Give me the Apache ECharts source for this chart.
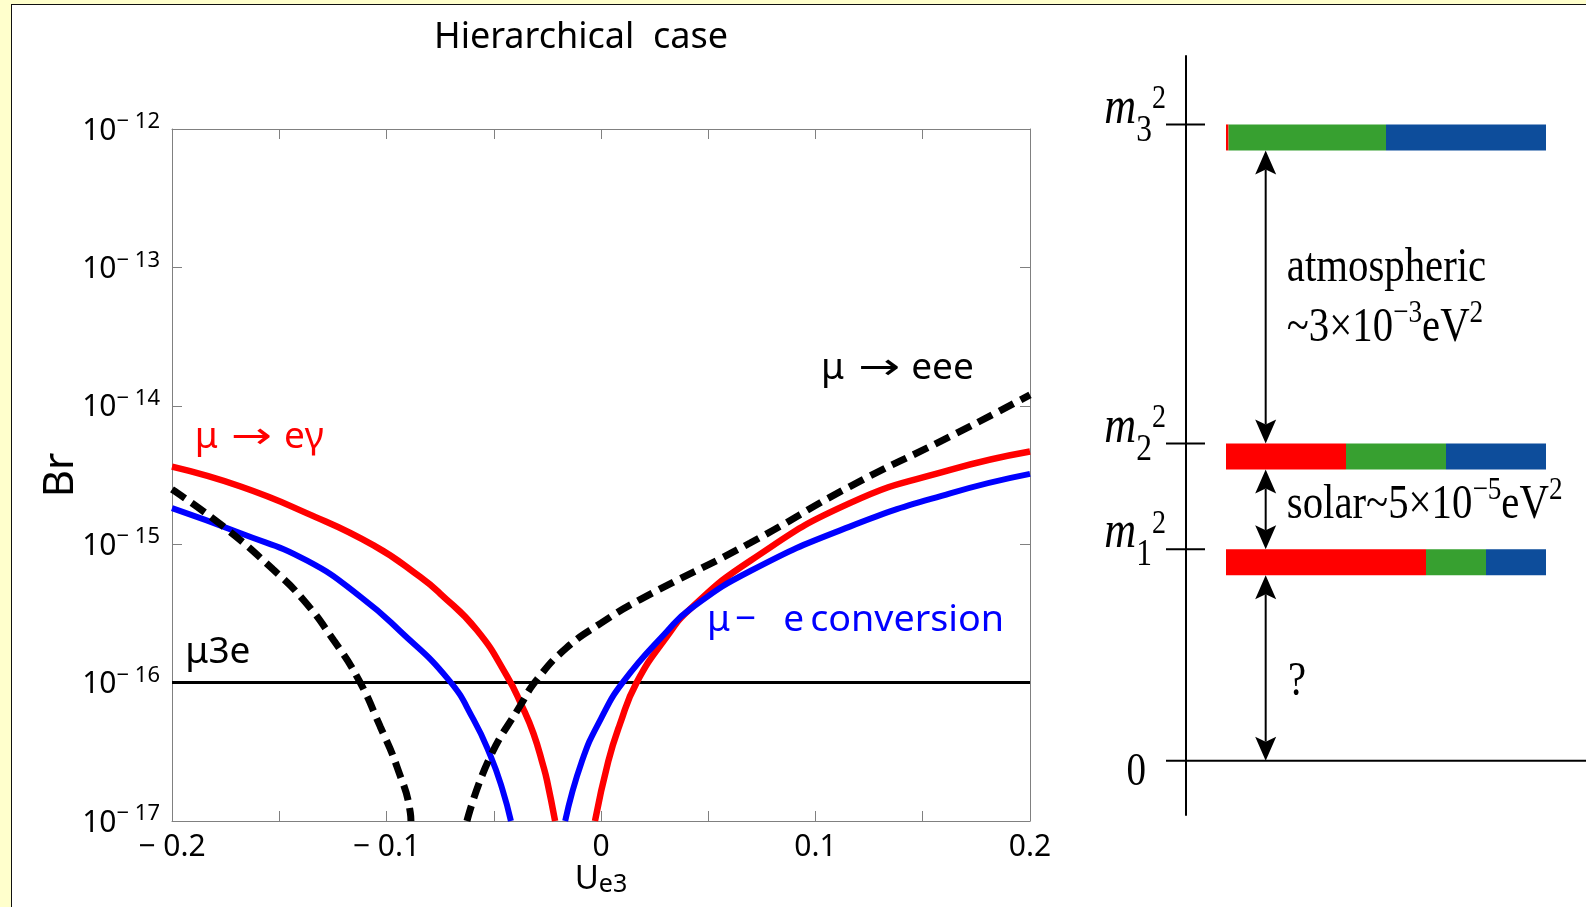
<!DOCTYPE html>
<html><head><meta charset="utf-8">
<script src="https://cdn.jsdelivr.net/npm/echarts@6/dist/echarts.min.js"></script>
<style>
html,body{margin:0;padding:0;width:1586px;height:907px;overflow:hidden;background:#FFFFCC;}
#frame{position:absolute;left:11px;top:4px;width:1575px;height:903px;background:#fff;border-left:1px solid #111;border-top:1px solid #111;box-sizing:border-box;}
#chart{position:absolute;left:0;top:0;width:1586px;height:907px;}
</style></head><body><div id="frame"></div><div id="chart"></div>
<script>
// ---------------- data ----------------
const uMuEgLeft  = [-0.2, -0.168, -0.137, -0.106, -0.0843, -0.075, -0.0579, -0.0439, -0.0369, -0.0315, -0.0268, -0.0252, -0.0214];
const brMuEgLeft = [3.63e-15, 2.61e-15, 1.67e-15, 9.8e-16, 5.8e-16, 4.4e-16, 2.4e-16, 1.12e-16, 6.8e-17, 4.3e-17, 2.46e-17, 1.97e-17, 1.0e-17];
const uMuEgRight  = [-0.0028, 0.0034, 0.0088, 0.0166, 0.0307, 0.0415, 0.0696, 0.116, 0.1628, 0.2];
const brMuEgRight = [1.0e-17, 2.7e-17, 5.0e-17, 1.0e-16, 2.15e-16, 3.4e-16, 7.6e-16, 1.98e-15, 3.44e-15, 4.67e-15];

const uMuEConvLeft  = [-0.2, -0.168, -0.137, -0.1115, -0.0936, -0.0711, -0.0594, -0.0515, -0.046, -0.042];
const brMuEConvLeft = [1.82e-15, 1.2e-15, 7.6e-16, 4.1e-16, 2.35e-16, 1.05e-16, 5.4e-17, 2.95e-17, 1.7e-17, 1.0e-17];
const uMuEConvRight  = [-0.0167, -0.0089, 0.0, 0.0105, 0.0307, 0.0415, 0.0696, 0.116, 0.1628, 0.2];
const brMuEConvRight = [1.0e-17, 2.7e-17, 5.5e-17, 1.02e-16, 2.34e-16, 3.39e-16, 6.4e-16, 1.34e-15, 2.33e-15, 3.22e-15];

const uMuEeeLeft  = [-0.2, -0.176, -0.153, -0.1387, -0.1247, -0.113, -0.1029, -0.0951, -0.0889, -0.0886];
const brMuEeeLeft = [2.49e-15, 1.34e-15, 6.6e-16, 3.95e-16, 2.03e-16, 1.05e-16, 4.8e-17, 2.46e-17, 1.15e-17, 1.0e-17];
const uMuEeeRight  = [-0.0625, -0.0524, -0.0377, -0.0299, -0.0161, 0.0, 0.0182, 0.0695, 0.116, 0.1628, 0.2];
const brMuEeeRight = [1.0e-17, 2.75e-17, 6.8e-17, 1.05e-16, 1.78e-16, 2.69e-16, 3.98e-16, 1.02e-15, 2.61e-15, 6.0e-15, 1.2e-14];

const uMu3e  = [-0.2, 0.2];
const brMu3e = [1e-16, 1e-16];

// neutrino mass-level diagram (schematic levels, flavour fractions of each mass state)
const levelLabels  = ['0', 'm1', 'm2', 'm3'];
const levelValues  = [0, 2.1, 3.15, 6.32];
const flavourNames = ['νe', 'νμ', 'ντ'];
const m1Fractions = [0.625, 0.1875, 0.1875];
const m2Fractions = [0.375, 0.3125, 0.3125];
const m3Fractions = [0.008, 0.492, 0.5];

// ---------------- styles ----------------
const SANS  = '"Noto Sans", "Open Sans", "DejaVu Sans", sans-serif';
const SERIF = '"Liberation Serif", "Times New Roman", serif';
const MID = { sans: 0.388, serif: 0.3375 };
const AXIS_GRAY = '#808080';
const flavourColors = ['#FF0000', '#37A030', '#0D4D9B'];
const BAR_H = 26;
const SERIF_SX = 0.85;
const SMOOTH = 0.5;

const mctx = document.createElement('canvas').getContext('2d');
function textWidth(font, t) { mctx.font = font; return mctx.measureText(t).width; }
function buildPieces(pieces, fam, baseSize, sxDefault) {
  let cx = 0; const out = [];
  for (const p of pieces) {
    cx += (p.gap || 0);
    const size = p.size || baseSize;
    const font = (p.italic ? 'italic ' : '') + size + 'px ' + (fam === 'serif' ? SERIF : SANS);
    const w = textWidth(font, p.t);
    const sx = p.w ? p.w / w : (p.sx || sxDefault || 1);
    out.push({ t: p.t, x: cx, dy: (p.dy || 0) - MID[fam] * size, font, sx, w: w * sx });
    cx += w * sx;
  }
  return out;
}
function piecesGroup(pieces, px, py, color) {
  return { type: 'group', children: pieces.map(p => ({
    type: 'text', x: px + p.x, y: py + p.dy, scaleX: p.sx,
    style: { text: p.t, font: p.font, fill: color, textAlign: 'left', textVerticalAlign: 'middle', align: 'left', verticalAlign: 'middle' }
  })) };
}

const zip = (a, b) => a.map((v, i) => [v, b[i]]);

// annotation texts inside the plot (anchor = left end of text baseline, data coords)
const plotNotes = [
  { u: -0.1894, br: 4.65e-15, color: '#FF0000', pieces: [{ t: 'μ' }, { t: '→', gap: 13, w: 41 }, { t: 'eγ', gap: 12 }] },
  { u: 0.1026, br: 1.47e-14, color: '#000000', pieces: [{ t: 'μ' }, { t: '→', gap: 14, w: 42 }, { t: 'eee', gap: 11 }] },
  { u: 0.0494, br: 2.2e-16, color: '#0000FF', pieces: [{ t: 'μ' }, { t: '−', gap: 5 }, { t: 'e', gap: 27 }, { t: 'conversion', gap: 6, w: 194 }] },
  { u: -0.1938, br: 1.3e-16, color: '#000000', pieces: [{ t: 'μ3e' }] }
];

// diagram annotation texts (anchor = left end of baseline, diagram data coords)
const diagramNotes = [
  { x: 0.19, y: 4.725, pieces: [{ t: 'atmospheric' }] },
  { x: 0.19, y: 4.129, pieces: [{ t: '~3×10' }, { t: '−3', size: 32, dy: -21 }, { t: 'eV' }, { t: '2', size: 32, dy: -21 }] },
  { x: 0.19, y: 2.370, pieces: [{ t: 'solar~5×10' }, { t: '−5', size: 32, dy: -21 }, { t: 'eV' }, { t: '2', size: 32, dy: -21 }] },
  { x: 0.194, y: 0.612, pieces: [{ t: '?' }] }
];
const ARROW_X = 0.124;
const arrowLinks = [[3, 2], [2, 1], [1, 0]];

// bar segments from fractions
const fractionsByLevel = { 1: m1Fractions, 2: m2Fractions, 3: m3Fractions };
const barData = [];
for (const li of [1, 2, 3]) {
  let s = 0;
  fractionsByLevel[li].forEach((f, fi) => { barData.push([s, s + f, levelValues[li], fi]); s += f; });
}

function xLabel(v) {
  const k = Math.round(v * 100);
  if (k % 10 !== 0) return '';
  if (k === 0) return '0';
  const s = (Math.abs(k) / 100).toFixed(1);
  return k < 0 ? '− ' + s : s;
}
function yLabel(v) {
  const e = Math.round(Math.log10(v));
  return '{b|10}{s|− ' + Math.abs(e) + '}';
}

const frameAxis = {
  axisLine: { show: true, onZero: false, lineStyle: { color: AXIS_GRAY, width: 1 } },
  axisTick: { show: true, inside: true, length: 10, lineStyle: { color: AXIS_GRAY, width: 1 } },
  splitLine: { show: false },
  minorTick: { show: false }
};

function curve(name, u, br, color, width, dash, z) {
  return { name, type: 'line', xAxisIndex: 0, yAxisIndex: 0, data: zip(u, br), symbol: 'none', showSymbol: false,
    smooth: SMOOTH, lineStyle: { color, width, type: dash || 'solid' }, z };
}

const chart = echarts.init(document.getElementById('chart'), null, { renderer: 'canvas' });
const option = {
  animation: false,
  backgroundColor: 'transparent',
  title: {
    text: 'Hierarchical  case', left: 576, top: 15, textAlign: 'center',
    textStyle: { fontFamily: SANS, fontSize: 36, fontWeight: 'normal', color: '#000' }
  },
  grid: [
    { left: 172, top: 129, width: 858, height: 692, containLabel: false, outerBoundsMode: 'none' },
    { left: 1186, top: 56, width: 400, height: 759, containLabel: false, outerBoundsMode: 'none' }
  ],
  xAxis: [
    Object.assign({}, frameAxis, {
      gridIndex: 0, type: 'value', min: -0.2, max: 0.2, interval: 0.05, position: 'bottom',
      axisLabel: { show: true, margin: 11, formatter: xLabel, color: '#000', fontFamily: SANS, fontSize: 30, lineHeight: 30, showMinLabel: true, showMaxLabel: true },
      name: '{u|U}{s|e3}', nameLocation: 'middle', nameGap: 42, nameMoveOverlap: false,
      nameTextStyle: { rich: {
        u: { fontFamily: SANS, fontSize: 33, lineHeight: 34, color: '#000', verticalAlign: 'top' },
        s: { fontFamily: SANS, fontSize: 25, lineHeight: 25, color: '#000', verticalAlign: 'bottom', padding: [16, 0, 0, 0] }
      } }
    }),
    Object.assign({}, frameAxis, {
      gridIndex: 0, type: 'value', min: -0.2, max: 0.2, interval: 0.05, position: 'top',
      axisLabel: { show: false }
    }),
    { gridIndex: 1, type: 'value', min: -0.125, max: 1.125, show: false }
  ],
  yAxis: [
    Object.assign({}, frameAxis, {
      gridIndex: 0, type: 'log', logBase: 10, min: 1e-17, max: 1e-12, position: 'left',
      axisLabel: { show: true, margin: 12, formatter: yLabel, showMinLabel: true, showMaxLabel: true, padding: [4, 0, 0, 0],
        rich: {
          b: { fontFamily: SANS, fontSize: 30, lineHeight: 30, color: '#000', verticalAlign: 'bottom' },
          s: { fontFamily: SANS, fontSize: 22, lineHeight: 22, color: '#000', verticalAlign: 'bottom', padding: [0, 0, 13, 0] }
        } },
      name: 'Br', nameLocation: 'middle', nameRotate: 90, nameGap: 90, nameMoveOverlap: false,
      nameTextStyle: { fontFamily: SANS, fontSize: 42, color: '#000' }
    }),
    Object.assign({}, frameAxis, {
      gridIndex: 0, type: 'log', logBase: 10, min: 1e-17, max: 1e-12, position: 'right',
      axisLabel: { show: false }
    }),
    { gridIndex: 1, type: 'value', min: -0.54, max: 7.0, position: 'left',
      axisLine: { show: true, onZero: false, lineStyle: { color: '#000', width: 2 } },
      axisTick: { show: false }, axisLabel: { show: false }, splitLine: { show: false } }
  ],
  series: [
    { name: 'μ3e', type: 'line', xAxisIndex: 0, yAxisIndex: 0, data: zip(uMu3e, brMu3e), showSymbol: false, symbol: 'none',
      lineStyle: { color: '#000', width: 3 }, z: 2 },
    curve('μ → eγ', uMuEgLeft, brMuEgLeft, '#FF0000', 6.5, null, 3),
    curve('μ → eγ', uMuEgRight, brMuEgRight, '#FF0000', 6.5, null, 3),
    curve('μ − e conversion', uMuEConvLeft, brMuEConvLeft, '#0000FF', 6, null, 4),
    curve('μ − e conversion', uMuEConvRight, brMuEConvRight, '#0000FF', 6, null, 4),
    curve('μ → eee', uMuEeeLeft, brMuEeeLeft, '#000000', 7, [16, 8], 5),
    curve('μ → eee', uMuEeeRight, brMuEeeRight, '#000000', 7, [16, 8], 5),
    { name: 'plot notes', type: 'custom', coordinateSystem: 'cartesian2d', xAxisIndex: 0, yAxisIndex: 0, silent: true, z: 10,
      data: plotNotes.map(n => [n.u, n.br]), encode: { x: 0, y: 1 },
      renderItem: (params, api) => {
        const n = plotNotes[params.dataIndex];
        const p = api.coord([api.value(0), api.value(1)]);
        return piecesGroup(buildPieces(n.pieces, 'sans', 37, 1), p[0], p[1], n.color);
      } },
    // ----- diagram -----
    { name: 'levels', type: 'custom', coordinateSystem: 'cartesian2d', xAxisIndex: 2, yAxisIndex: 2, silent: true, clip: false, z: 3,
      data: levelValues.map((v, i) => [-0.125, v, i]), encode: { x: 0, y: 1 },
      renderItem: (params, api) => {
        const i = params.dataIndex;
        const p = api.coord([api.value(0), api.value(1)]);
        const right = api.coord([1.125, api.value(1)])[0];
        const x2 = i === 0 ? right : p[0] + 19;
        const children = [{ type: 'line', shape: { x1: p[0] - 20, y1: p[1], x2: x2, y2: p[1] }, style: { stroke: '#000', lineWidth: 2 } }];
        const lab = levelLabels[i];
        let pieces;
        if (lab === '0') pieces = buildPieces([{ t: '0' }], 'serif', 46, SERIF_SX);
        else pieces = buildPieces([{ t: 'm', italic: true, size: 52 }, { t: lab.slice(1), size: 37, dy: 17 }, { t: '2', size: 33, dy: -16 }], 'serif', 48, SERIF_SX);
        const last = pieces[pieces.length - 1];
        const w = last.x + last.w;
        const lx = i === 0 ? p[0] - 40 - w : p[0] - 20 - w;
        const ly = i === 0 ? p[1] + 28 : p[1] + 2;
        children.push(piecesGroup(pieces, lx, ly, '#000'));
        return { type: 'group', children };
      } },
    { name: 'mass states', type: 'custom', coordinateSystem: 'cartesian2d', xAxisIndex: 2, yAxisIndex: 2, silent: true, clip: false, z: 4,
      data: barData, encode: { x: [0, 1], y: 2 },
      renderItem: (params, api) => {
        const a = api.coord([api.value(0), api.value(2)]);
        const b = api.coord([api.value(1), api.value(2)]);
        return { type: 'rect', shape: { x: a[0], y: a[1], width: b[0] - a[0], height: BAR_H },
          style: { fill: flavourColors[api.value(3)] } };
      } },
    { name: 'splittings', type: 'custom', coordinateSystem: 'cartesian2d', xAxisIndex: 2, yAxisIndex: 2, silent: true, clip: false, z: 5,
      data: arrowLinks.map(l => [ARROW_X, levelValues[l[0]], levelValues[l[1]], l[1]]), encode: { x: 0, y: [1, 2] },
      renderItem: (params, api) => {
        const top = api.coord([api.value(0), api.value(1)]);
        const bot = api.coord([api.value(0), api.value(2)]);
        const x = top[0], y1 = top[1] + BAR_H, y2 = bot[1];
        const hw = 10.5, hl = 24, notch = 19;
        return { type: 'group', children: [
          { type: 'line', shape: { x1: x, y1: y1 + notch, x2: x, y2: y2 - notch }, style: { stroke: '#000', lineWidth: 2 } },
          { type: 'polygon', shape: { points: [[x, y1], [x - hw, y1 + hl], [x, y1 + notch], [x + hw, y1 + hl]] }, style: { fill: '#000' } },
          { type: 'polygon', shape: { points: [[x, y2], [x - hw, y2 - hl], [x, y2 - notch], [x + hw, y2 - hl]] }, style: { fill: '#000' } }
        ] };
      } },
    { name: 'diagram notes', type: 'custom', coordinateSystem: 'cartesian2d', xAxisIndex: 2, yAxisIndex: 2, silent: true, clip: false, z: 6,
      data: diagramNotes.map(n => [n.x, n.y]), encode: { x: 0, y: 1 },
      renderItem: (params, api) => {
        const n = diagramNotes[params.dataIndex];
        const p = api.coord([api.value(0), api.value(1)]);
        return piecesGroup(buildPieces(n.pieces, 'serif', 48, SERIF_SX), p[0], p[1], '#000');
      } }
  ]
};
chart.setOption(option);
</script>
</body></html>
